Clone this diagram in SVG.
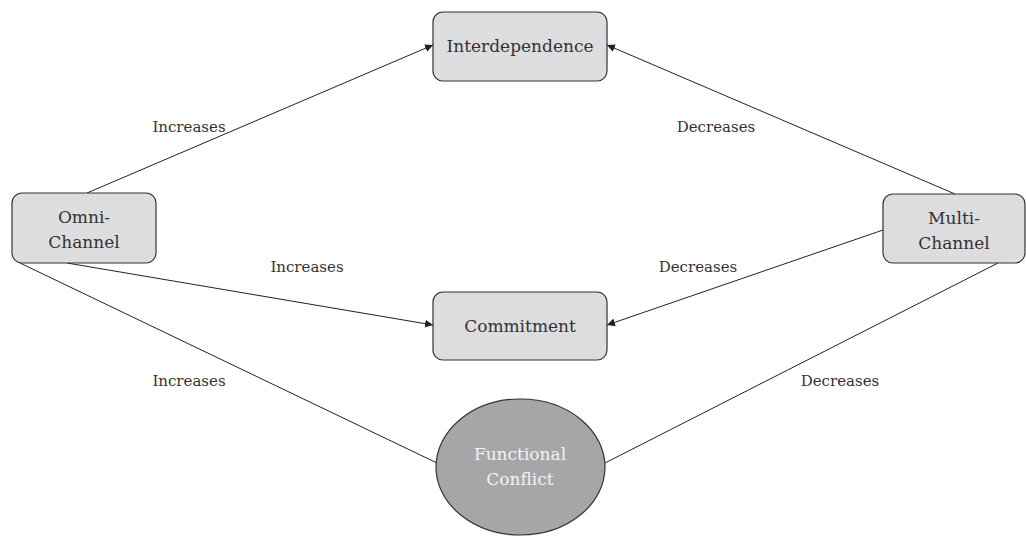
<svg xmlns="http://www.w3.org/2000/svg" width="1026" height="537" viewBox="0 0 1026 537">
  <style>
    .box { fill: #dddddf; stroke: #333; stroke-width: 1.2; }
    .blob { fill: #a6a6a8; stroke: #333; stroke-width: 1.2; }
    .edge { stroke: #222; stroke-width: 1; fill: none; }
    .t { font-family: "DejaVu Serif", "Liberation Serif", serif; fill: #333; text-anchor: middle; }
    .node { font-size: 17px; }
    .lbl { font-size: 15px; }
    .light { fill: #f2f2f2; }
  </style>
  <defs>
    <marker id="arrow" viewBox="0 0 10 10" refX="10" refY="5" markerWidth="8" markerHeight="8" markerUnits="userSpaceOnUse" orient="auto">
      <path d="M0,0 L10,5 L0,10 z" fill="#222"/>
    </marker>
  </defs>
  <rect width="1026" height="537" fill="#fff"/>

  <g id="connectors">
    <line class="edge" x1="87" y1="193" x2="433" y2="45" marker-end="url(#arrow)"/>
    <line class="edge" x1="955" y1="194" x2="607" y2="45" marker-end="url(#arrow)"/>
    <line class="edge" x1="67" y1="263" x2="433" y2="325" marker-end="url(#arrow)"/>
    <line class="edge" x1="883" y1="230" x2="607" y2="325" marker-end="url(#arrow)"/>
    <line class="edge" x1="20" y1="263" x2="437" y2="463"/>
    <line class="edge" x1="998" y1="263" x2="605" y2="463"/>
    <text class="t lbl" x="189" y="132">Increases</text>
    <text class="t lbl" x="716" y="132">Decreases</text>
    <text class="t lbl" x="307" y="272">Increases</text>
    <text class="t lbl" x="698" y="272">Decreases</text>
    <text class="t lbl" x="189" y="386">Increases</text>
    <text class="t lbl" x="840" y="386">Decreases</text>
  </g>

  <g id="interdependence">
    <rect class="box" x="433" y="12" width="174" height="69" rx="10"/>
    <text class="t node" x="520" y="52">Interdependence</text>
  </g>
  <g id="omni-channel">
    <rect class="box" x="12" y="193" width="144" height="70" rx="10"/>
    <text class="t node" x="84" y="223">Omni-</text>
    <text class="t node" x="84" y="248">Channel</text>
  </g>
  <g id="multi-channel">
    <rect class="box" x="883" y="194" width="142" height="69" rx="10"/>
    <text class="t node" x="954" y="224">Multi-</text>
    <text class="t node" x="954" y="249">Channel</text>
  </g>
  <g id="commitment">
    <rect class="box" x="433" y="292" width="174" height="68" rx="10"/>
    <text class="t node" x="520" y="332">Commitment</text>
  </g>
  <g id="functional-conflict">
    <ellipse class="blob" cx="520.5" cy="467" rx="84.5" ry="68"/>
    <text class="t node light" x="520" y="460">Functional</text>
    <text class="t node light" x="520" y="485">Conflict</text>
  </g>
</svg>
